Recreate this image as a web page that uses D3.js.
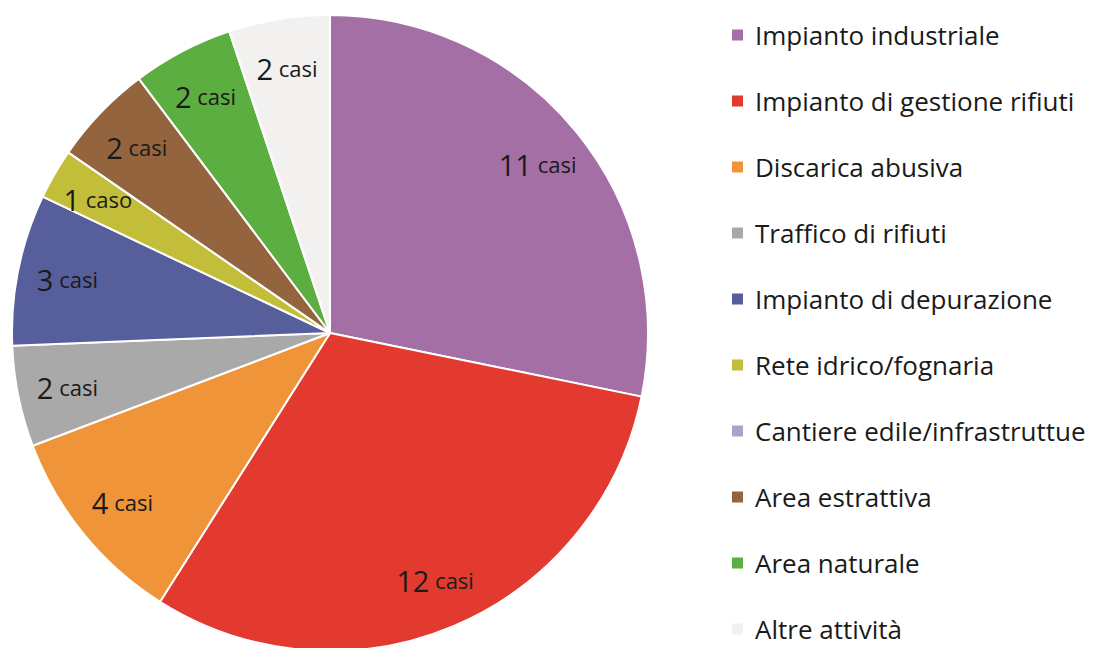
<!DOCTYPE html>
<html>
<head>
<meta charset="utf-8">
<script src="https://cdn.jsdelivr.net/npm/d3@7"></script>
<style>
    html, body { margin: 0; padding: 0; background: #fff; }
    #chart { width: 1095px; height: 648px; }
    text { font-family: "Open Sans", Lato, sans-serif; fill: #1a1a1a; }
</style>
</head>
<body>
<div id="chart"></div>
<script>
    // categories in clockwise order, starting from 12 o'clock
    const categories = [
        "Impianto industriale",
        "Impianto di gestione rifiuti",
        "Discarica abusiva",
        "Traffico di rifiuti",
        "Impianto di depurazione",
        "Rete idrico/fognaria",
        "Cantiere edile/infrastruttue",
        "Area estrattiva",
        "Area naturale",
        "Altre attività"
    ];
    const cases = [11, 12, 4, 2, 3, 1, 0, 2, 2, 2];
    const colors = [
        "#a46fa4", "#e33a30", "#ef9438", "#a9a9a9", "#575e9c",
        "#c3be3a", "#a3a8cb", "#93643e", "#5dae40", "#f2f1f0"
    ];

    const width = 1095, height = 648;
    const cx = 330, cy = 333, radius = 318;

    const svg = d3.select("#chart").append("svg")
        .attr("width", width)
        .attr("height", height);

    let data = categories.map((c, i) => ({ name: c, value: cases[i], color: colors[i] }));

    let pie = d3.pie().sort(null).value(d => d.value);
    let arc = d3.arc().innerRadius(0).outerRadius(radius);
    let labelArc = d3.arc().innerRadius(268).outerRadius(268);

    let g = svg.append("g").attr("transform", `translate(${cx},${cy})`);

    g.selectAll("path.slice")
        .data(pie(data))
        .enter().append("path")
        .attr("class", "slice")
        .attr("d", arc)
        .attr("fill", d => d.data.color)
        .attr("stroke", "#fff")
        .attr("stroke-width", 2)
        .attr("stroke-linejoin", "round");

    let labels = g.selectAll("text.lbl")
        .data(pie(data).filter(d => d.data.value > 0))
        .enter().append("text")
        .attr("class", "lbl")
        .attr("text-anchor", "middle")
        .attr("dominant-baseline", "central")
        .attr("transform", d => `translate(${labelArc.centroid(d)})`);

    labels.append("tspan")
        .attr("font-size", 29)
        .text(d => d.data.value);
    labels.append("tspan")
        .attr("font-size", 22)
        .text(d => d.data.value === 1 ? " caso" : " casi");

    // legend
    let legendY = d3.scalePoint().domain(categories).range([35, 629]);

    let legend = svg.append("g").attr("class", "legend");
    let rows = legend.selectAll("g.row")
        .data(data)
        .enter().append("g")
        .attr("class", "row")
        .attr("transform", d => `translate(732,${legendY(d.name)})`);

    rows.append("rect")
        .attr("x", 0)
        .attr("y", -5.5)
        .attr("width", 11)
        .attr("height", 11)
        .attr("fill", d => d.color);

    rows.append("text")
        .attr("x", 23)
        .attr("dominant-baseline", "central")
        .attr("font-size", 26)
        .text(d => d.name);
</script>
</body>
</html>
